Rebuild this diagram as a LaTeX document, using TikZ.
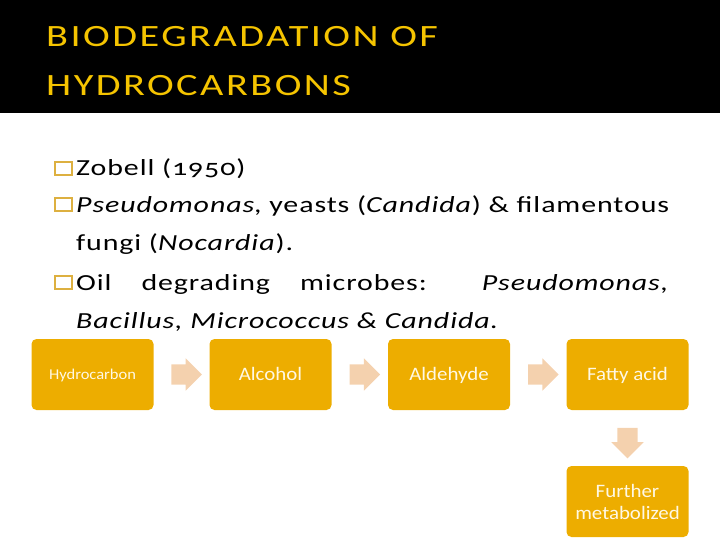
\documentclass[tikz,border=0pt]{standalone}
\usepackage{fontspec}
\setmainfont{Carlito}
\newfontfamily\titlefont[FakeStretch=1.3, LetterSpace=8]{Carlito}
\newfontfamily\bodyfont[FakeStretch=1.3, LetterSpace=4, Numbers=OldStyle]{Carlito}
\newfontfamily\boxfont[FakeStretch=1.1]{Carlito}
\usepackage{xcolor}
\usetikzlibrary{shapes.arrows,calc}
\definecolor{titlegold}{HTML}{F5C400}
\definecolor{boxgold}{HTML}{EDAD00}
\definecolor{arrowpeach}{HTML}{F4D1AE}
\definecolor{bulletgold}{HTML}{DDB040}
\definecolor{boxtext}{HTML}{FFF8E4}

\tikzset{
    stagebox/.style={rectangle, rounded corners=5pt, fill=boxgold, text=boxtext,
        minimum width=122pt, minimum height=71pt, align=center, text height=12pt, text depth=0pt,
        font=\boxfont\fontsize{19}{22}\selectfont},
    flowarrow/.style={single arrow, fill=arrowpeach, draw=none, inner sep=10pt,
        minimum height=28pt, single arrow head extend=6pt},
    titleline/.style={anchor=base west, inner sep=0pt, text=titlegold, font=\titlefont\fontsize{31}{38}\selectfont},
    bodyline/.style={anchor=base west, inner sep=0pt, font=\bodyfont\fontsize{23}{28}\selectfont},
    bulletbox/.style={draw=bulletgold, line width=1.4pt, minimum width=17pt, minimum height=13pt, inner sep=0pt}
}

\begin{document}
\begin{tikzpicture}[x=1pt, y=-1pt]
        \useasboundingbox (0,0) rectangle (720,540);
        \fill[black] (0,0) rectangle (720,113);

        \node[titleline] (title1) at (46,47) {BIODEGRADATION OF};
        \node[titleline] (title2) at (46,96) {HYDROCARBONS};

        % bullets
        \node[bulletbox] (b1) at (63.5,168.5) {};
        \node[bulletbox] (b2) at (63.5,204.5) {};
        \node[bulletbox] (b4) at (63.5,282.5) {};

        \node[bodyline] (l1) at (76,176) {Zobell (1950)};
        \node[bodyline] (l2) at (76,212) {\textit{Pseudomonas}, yeasts (\textit{Candida}) \& filamentous};
        \node[bodyline] (l3) at (76,251) {fungi (\textit{Nocardia}).};
        \node[bodyline] (l4) at (76,290) {\makebox[593pt][s]{Oil degrading microbes: \textit{Pseudomonas,}}};
        \node[bodyline] (l5) at (76,328) {\textit{Bacillus, Micrococcus \& Candida.}};

        % pathway
        \node[stagebox, text height=10pt, font=\boxfont\fontsize{15}{18}\selectfont] (hc) at (92.5,374.5) {Hydrocarbon};
        \node[stagebox] (alc) at (270.5,374.5) {Alcohol};
        \node[stagebox] (ald) at (449,374.5) {Aldehyde};
        \node[stagebox] (fa) at (627.5,374.5) {Fatty acid};
        \node[stagebox, text height=, text depth=, font=\boxfont\fontsize{19}{22}\selectfont] (fm) at (627.5,501.5) {Further\\metabolized};

        \node[flowarrow] (a1) at ($(hc.east)!0.5!(alc.west)$) {};
        \node[flowarrow] (a2) at ($(alc.east)!0.5!(ald.west)$) {};
        \node[flowarrow] (a3) at ($(ald.east)!0.5!(fa.west)$) {};
        \node[flowarrow, shape border rotate=270] (a4) at ($(fa.south)!0.5!(fm.north)$) {};

    \end{tikzpicture}
\end{document}
